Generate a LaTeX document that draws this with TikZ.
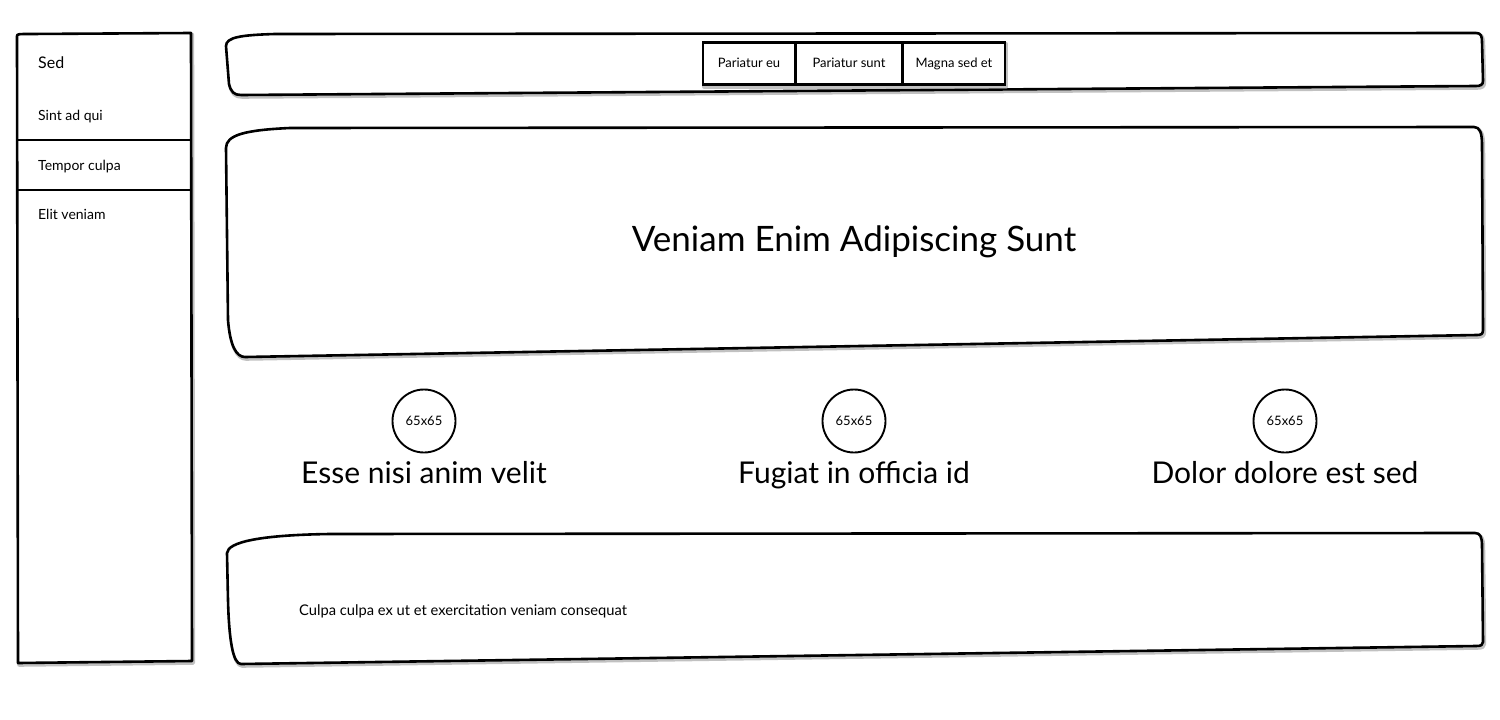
\documentclass[tikz,border=0pt]{standalone}
\usepackage{fontspec}
\setmainfont{Lato}
\begin{document}
\begin{tikzpicture}[x=1pt,y=-1pt,
  frame/.style={draw=black,line width=2.6pt,fill=white,line join=round},
  shade/.style={draw=black!40,line width=4pt,line join=round,opacity=0.6},
  tabbox/.style={draw=black,line width=2.4pt,fill=white,inner sep=0pt,minimum height=42pt,text height=10pt,text depth=2pt,font=\fontsize{13}{15}\selectfont},
  menu/.style={anchor=base west,inner sep=0pt,font=\fontsize{14}{16}\selectfont},
  circ/.style={draw=black,line width=1.9pt,circle,minimum size=63pt,inner sep=0pt,text height=9pt,text depth=0pt,font=\fontsize{13}{15}\selectfont},
  heading/.style={anchor=base,inner sep=0pt,font=\fontsize{30}{34}\selectfont}]
\useasboundingbox (0,0) rectangle (1500,720);
\fill[white] (0,0) rectangle (1500,720);

% ---------- sidebar ----------
\def\side{(17,36) .. controls (17,34) and (19,34) .. (30,34) -- (191,33) -- (192,661) -- (18,663) -- cycle}
\begin{scope}[shift={(1.2,1.8)}]\draw[shade] \side;\end{scope}
\draw[frame] \side;
\draw[line width=2.6pt] (17,140) -- (192,140);
\draw[line width=2.6pt] (17,190) -- (192,190);
\node[menu,font=\fontsize{16}{18}\selectfont] (sed) at (38,68) {Sed};
\node[menu] (m1) at (38,120) {Sint ad qui};
\node[menu] (m2) at (38,170) {Tempor culpa};
\node[menu] (m3) at (38,219) {Elit veniam};

% ---------- top bar ----------
\def\topbar{(226,46) .. controls (226,37) and (242,35) .. (275,34) -- (1476,33) .. controls (1481,33) and (1482,36) .. (1482,42) -- (1483,81) .. controls (1483,85) and (1480,86) .. (1476,86) -- (241,95) .. controls (234,95) and (231,92) .. (229,84) -- cycle}
\begin{scope}[shift={(1.2,1.8)}]\draw[shade] \topbar;\end{scope}
\draw[frame] \topbar;

\begin{scope}[shift={(1.2,1.8)}]
\draw[shade] (703,42) rectangle (1005,85);
\end{scope}
\node[tabbox,minimum width=92pt] (tab1) at (749,63.5) {Pariatur eu};
\node[tabbox,minimum width=106pt] (tab2) at (849,63.5) {Pariatur sunt};
\node[tabbox,minimum width=102pt] (tab3) at (954,63.5) {Magna sed et};

% ---------- hero ----------
\def\hero{(226,148) .. controls (226,135) and (245,130) .. (290,128) -- (1474,127) .. controls (1480,127) and (1482,133) .. (1482,145) -- (1483,330) .. controls (1483,334) and (1481,335) .. (1477,335) -- (245,357) .. controls (236,357) and (230,345) .. (228,320) -- cycle}
\begin{scope}[shift={(1.2,1.8)}]\draw[shade] \hero;\end{scope}
\draw[frame] \hero;
\node[anchor=base,inner sep=0pt,font=\fontsize{35}{40}\selectfont] (title) at (854,251) {Veniam Enim Adipiscing Sunt};

% ---------- features ----------
\node[circ] (c1) at (424,421) {65x65};
\node[circ] (c2) at (854,421) {65x65};
\node[circ] (c3) at (1285,421) {65x65};
\node[heading] (h1) at (424,483) {Esse nisi anim velit};
\node[heading] (h2) at (854,483) {Fugiat in officia id};
\node[heading] (h3) at (1285,483) {Dolor dolore est sed};

% ---------- footer ----------
\def\foot{(227,553) .. controls (228,542) and (260,535) .. (330,534) -- (1475,533) .. controls (1480,533) and (1482,537) .. (1482,545) -- (1483,642) .. controls (1483,645) and (1481,646) .. (1476,646) -- (241,664) .. controls (233,664) and (229,640) .. (228,600) -- cycle}
\begin{scope}[shift={(1.2,1.8)}]\draw[shade] \foot;\end{scope}
\draw[frame] \foot;
\node[menu,font=\fontsize{14.7}{17}\selectfont] (body) at (299,615) {Culpa culpa ex ut et exercitation veniam consequat};
\end{tikzpicture}
\end{document}
